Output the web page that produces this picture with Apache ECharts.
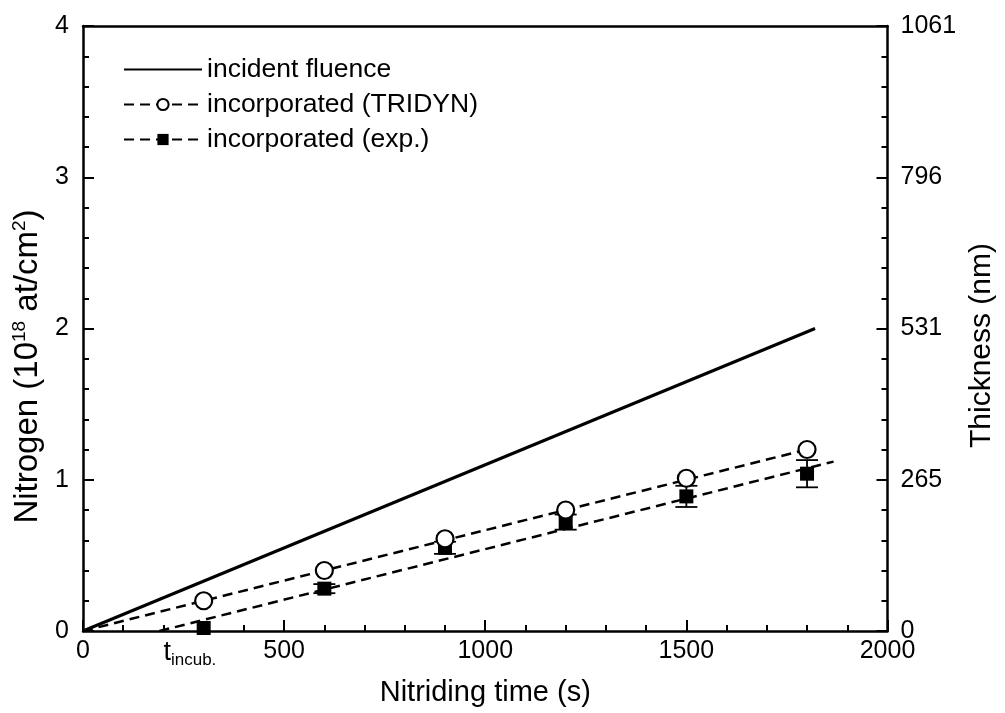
<!DOCTYPE html>
<html><head><meta charset="utf-8">
<script src="https://cdn.jsdelivr.net/npm/echarts@6/dist/echarts.min.js"></script>
<style>html,body{margin:0;padding:0;background:#fff}#c{width:1005px;height:713px}</style>
</head><body><div id="c"></div>
<script>
// ---- data ----
const timeS = [300, 600, 900, 1200, 1500, 1800];
const tridyn = [0.20, 0.40, 0.61, 0.80, 1.01, 1.20];
const expVals = [0.02, 0.28, 0.55, 0.72, 0.89, 1.04];
const expErr = [0.00, 0.03, 0.04, 0.05, 0.07, 0.09];
const fluenceX = [0, 1820];
const fluenceY = [0, 2.00];
const tridynFitX = [0, 1800];
const tridynFitY = [0, 1.20];
const expFitX = [190, 1866];
const expFitY = [0, 1.12];
const tIncub = 200;
const thicknessLabels = ['0', '265', '531', '796', '1061'];
const seriesNames = ['incident fluence', 'incorporated (TRIDYN)', 'incorporated (exp.)'];

const FONT = '"Liberation Sans", Arial, Helvetica, sans-serif';
const zip = (a, b) => a.map((v, i) => [v, b[i]]);
const fitData = (xs, ys) => xs.map((v, i) => ({ value: [v, ys[i]], symbol: 'none' }));

const chart = echarts.init(document.getElementById('c'), null, { renderer: 'canvas' });

const axisCommon = {
  axisLine: { show: true, onZero: false, lineStyle: { color: '#000', width: 2.5 } },
  axisTick: { show: true, inside: true, length: 11, lineStyle: { color: '#000', width: 2 } },
  minorTick: { show: true, splitNumber: 5, length: 6, lineStyle: { color: '#000', width: 2 } },
  splitLine: { show: false },
  minorSplitLine: { show: false },
  axisLabel: { color: '#000', fontSize: 25, fontFamily: FONT }
};

chart.setOption({
  animation: false,
  backgroundColor: '#fff',
  grid: { left: 83, right: 112, top: 26, bottom: 82, containLabel: false },
  legend: {
    orient: 'vertical', left: 118, top: 51, itemGap: 8,
    itemWidth: 78, itemHeight: 14,
    data: [
      { name: seriesNames[0], itemStyle: { opacity: 0 } },
      { name: seriesNames[1] },
      { name: seriesNames[2] }
    ],
    textStyle: { color: '#000', fontSize: 26.5, fontFamily: FONT, lineHeight: 26 },
    selectedMode: false
  },
  xAxis: [
    Object.assign({}, axisCommon, {
      type: 'value', min: 0, max: 2000, interval: 500, position: 'bottom',
      name: 'Nitriding time (s)', nameLocation: 'middle', nameGap: 47,
      nameTextStyle: { color: '#000', fontSize: 29, fontFamily: FONT },
      axisLabel: Object.assign({}, axisCommon.axisLabel, { margin: 8, formatter: (v) => String(v) })
    }),
    {
      type: 'value', min: 0, max: 2000, position: 'top',
      axisLine: { show: true, onZero: false, lineStyle: { color: '#000', width: 2.5 } },
      axisTick: { show: false }, axisLabel: { show: false }, splitLine: { show: false }
    }
  ],
  yAxis: [
    Object.assign({}, axisCommon, {
      type: 'value', min: 0, max: 4, interval: 1, position: 'left',
      name: '{n|Nitrogen (10}{s|18}{n| at/cm}{s|2}{n|)}',
      nameLocation: 'middle', nameGap: 35, nameRotate: 90,
      nameTextStyle: {
        padding: [0, 76, 0, 0],
        rich: {
          n: { fontSize: 33, fontFamily: FONT, color: '#000', lineHeight: 34 },
          s: { fontSize: 19, fontFamily: FONT, color: '#000', lineHeight: 19, verticalAlign: 'top' }
        }
      },
      axisLabel: Object.assign({}, axisCommon.axisLabel, { margin: 14 })
    }),
    Object.assign({}, axisCommon, {
      type: 'value', min: 0, max: 4, interval: 1, position: 'right',
      name: 'Thickness (nm)', nameLocation: 'middle', nameGap: 76, nameRotate: 90,
      nameTextStyle: { color: '#000', fontSize: 30, fontFamily: FONT, padding: [0, 34, 0, 0] },
      axisLabel: Object.assign({}, axisCommon.axisLabel, {
        margin: 13,
        formatter: (v) => thicknessLabels[Math.round(v)]
      })
    })
  ],
  series: [
    {
      name: seriesNames[0], type: 'line', symbol: 'none',
      data: zip(fluenceX, fluenceY),
      lineStyle: { color: '#000', width: 3 }, itemStyle: { color: '#000' },
      z: 3
    },
    {
      name: seriesNames[1], type: 'line', symbol: 'emptyCircle', symbolSize: 16,
      data: fitData(tridynFitX, tridynFitY),
      lineStyle: { color: '#000', width: 2.5, type: [10, 6] },
      itemStyle: { color: '#000', borderWidth: 2 },
      z: 3
    },
    {
      name: seriesNames[2], type: 'line', symbol: 'rect', symbolSize: 14,
      data: fitData(expFitX, expFitY),
      lineStyle: { color: '#000', width: 2.5, type: [10, 6] },
      itemStyle: { color: '#000' },
      z: 3,
      markPoint: {
        symbol: 'circle', symbolSize: 0, silent: true,
        data: [{ coord: [tIncub, 0], value: 0 }],
        label: {
          show: true, position: 'bottom', distance: 6, align: 'left',
          formatter: '{t|t}{s|incub.}',
          rich: {
            t: { fontSize: 27, fontFamily: FONT, color: '#000', lineHeight: 32 },
            s: { fontSize: 17, fontFamily: FONT, color: '#000', lineHeight: 16, verticalAlign: 'bottom' }
          }
        }
      }
    },
    {
      name: 'errbars', type: 'custom', z: 4,
      data: timeS.map((t, i) => [t, expVals[i], expErr[i]]),
      renderItem: function (params, api) {
        const x = api.value(0), y = api.value(1), e = api.value(2);
        if (!(e > 0)) return null;
        const top = api.coord([x, y + e]);
        const bot = api.coord([x, y - e]);
        const hw = 11;
        const st = { stroke: '#000', lineWidth: 1.8 };
        return {
          type: 'group', children: [
            { type: 'line', shape: { x1: top[0], y1: top[1], x2: bot[0], y2: bot[1] }, style: st },
            { type: 'line', shape: { x1: top[0] - hw, y1: top[1], x2: top[0] + hw, y2: top[1] }, style: st },
            { type: 'line', shape: { x1: bot[0] - hw, y1: bot[1], x2: bot[0] + hw, y2: bot[1] }, style: st }
          ]
        };
      }
    },
    {
      name: 'expPts', type: 'scatter', symbol: 'rect', symbolSize: 14, z: 5,
      data: zip(timeS, expVals), itemStyle: { color: '#000', opacity: 1 }
    },
    {
      name: 'tridynPts', type: 'scatter', symbol: 'circle', symbolSize: 17, z: 6,
      data: zip(timeS, tridyn),
      itemStyle: { color: '#fff', borderColor: '#000', borderWidth: 2.2, opacity: 1 }
    }
  ]
});
</script>
</body></html>
